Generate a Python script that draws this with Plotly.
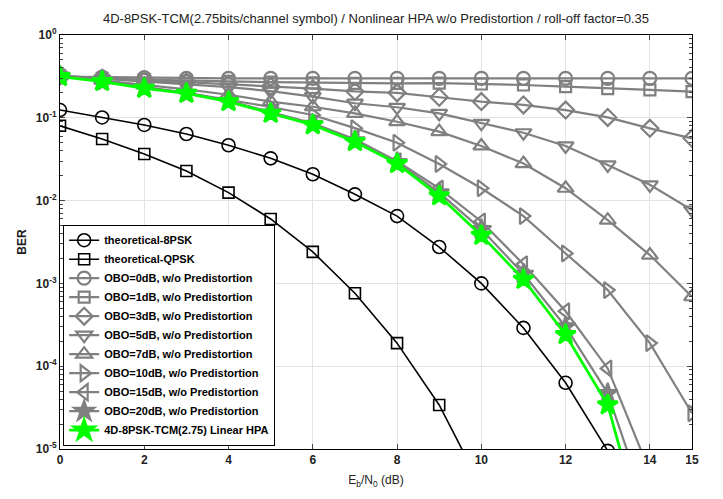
import plotly.graph_objects as go

# E_b/N_0 (dB)
ebn0 = list(range(16))

# theoretical curves
ber_8psk = [0.124, 0.101, 0.082, 0.0637, 0.0466, 0.0324, 0.0208, 0.0119,
            0.0065, 0.00275, 0.001, 2.9e-4, 6.3e-5, 9.5e-6]
ber_qpsk = [0.080, 0.0555, 0.0366, 0.0228, 0.0125, 0.0060, 0.0024, 7.6e-4,
            1.9e-4, 3.4e-5, 3.5e-6]

# nonlinear HPA w/o predistortion
obo_0 = [0.315, 0.31, 0.305, 0.30, 0.30, 0.30, 0.30, 0.30, 0.30, 0.30,
         0.30, 0.30, 0.30, 0.30, 0.30, 0.30]
obo_1 = [0.32, 0.30, 0.29, 0.28, 0.275, 0.27, 0.265, 0.26, 0.26, 0.262,
         0.256, 0.249, 0.238, 0.225, 0.217, 0.207]
obo_3 = [0.32, 0.30, 0.28, 0.27, 0.255, 0.24, 0.225, 0.208, 0.20, 0.177,
         0.157, 0.143, 0.124, 0.101, 0.0746, 0.0565]
obo_5 = [0.32, 0.295, 0.275, 0.255, 0.235, 0.21, 0.18, 0.15, 0.134, 0.113,
         0.0858, 0.066, 0.0457, 0.027, 0.0155, 0.0077]
obo_7 = [0.32, 0.285, 0.25, 0.22, 0.19, 0.157, 0.136, 0.113, 0.0897, 0.068,
         0.0457, 0.028, 0.0141, 0.0058, 0.0022, 6.9e-4]
obo_10 = [0.32, 0.275, 0.235, 0.20, 0.165, 0.135, 0.108, 0.075, 0.050,
          0.0277, 0.0141, 0.0065, 0.0023, 8.3e-4, 1.9e-4, 2.7e-5]
obo_15 = [0.32, 0.28, 0.235, 0.20, 0.16, 0.118, 0.086, 0.055, 0.030,
          0.0140, 0.0056, 0.0017, 4.6e-4, 9.4e-5, 5.3e-6]
obo_20 = [0.318, 0.278, 0.231, 0.199, 0.159, 0.115, 0.084, 0.053, 0.029,
          0.0125, 0.0045, 0.0013, 3.0e-4, 4.7e-5, 1.5e-6]

# 4D-8PSK-TCM(2.75), linear HPA
tcm_linear = [0.314, 0.274, 0.227, 0.197, 0.157, 0.113, 0.082, 0.0515, 0.028,
              0.0114, 0.0038, 0.00112, 2.4e-4, 3.4e-5, 5e-7]

y_ticks = [1e-5, 1e-4, 1e-3, 1e-2, 1e-1, 1]
y_ticktext = ["<b>10<sup>-5</sup></b>", "<b>10<sup>-4</sup></b>",
              "<b>10<sup>-3</sup></b>", "<b>10<sup>-2</sup></b>",
              "<b>10<sup>-1</sup></b>", "<b>10<sup>0</sup></b>"]
x_ticks = [0, 2, 4, 6, 8, 10, 12, 14, 15]

GRAY = "#808080"
FONT = "Arial, Liberation Sans, sans-serif"

fig = go.Figure()


def add_curve(y, name, symbol, color, width, size):
    fig.add_trace(go.Scatter(
        x=ebn0[:len(y)], y=y, name=name, mode="lines+markers",
        line=dict(color=color, width=width),
        marker=dict(symbol=symbol, size=size, color=color,
                    line=dict(color=color, width=width)),
    ))


add_curve(ber_8psk, "theoretical-8PSK", "circle-open", "black", 1.6, 13)
add_curve(ber_qpsk, "theoretical-QPSK", "square-open", "black", 1.6, 11)
add_curve(obo_0, "OBO=0dB, w/o Predistortion", "circle-open", GRAY, 2.2, 13)
add_curve(obo_1, "OBO=1dB, w/o Predistortion", "square-open", GRAY, 2.2, 11)
add_curve(obo_3, "OBO=3dB, w/o Predistortion", "diamond-open", GRAY, 2.2, 13)
add_curve(obo_5, "OBO=5dB, w/o Predistortion", "triangle-down-open", GRAY, 2.2, 14)
add_curve(obo_7, "OBO=7dB, w/o Predistortion", "triangle-up-open", GRAY, 2.2, 14)
add_curve(obo_10, "OBO=10dB, w/o Predistortion", "triangle-right-open", GRAY, 2.2, 14)
add_curve(obo_15, "OBO=15dB, w/o Predistortion", "triangle-left-open", GRAY, 2.2, 14)
add_curve(obo_20, "OBO=20dB, w/o Predistortion", "star", GRAY, 2.2, 15)
add_curve(tcm_linear, "4D-8PSK-TCM(2.75) Linear HPA", "star", "#00ff00", 2.8, 15)

fig.update_xaxes(
    range=[0, 15], tickvals=x_ticks, ticks="inside", ticklen=5,
    showgrid=True, gridcolor="#e3e3e3", gridwidth=1,
    showline=True, linecolor="black", linewidth=1, mirror="ticks",
    zeroline=False, automargin=False,
    tickfont=dict(family=FONT, size=12, color="#222", weight="bold"),
    title=dict(text="E<sub>b</sub>/N<sub>0</sub> (dB)", standoff=9,
               font=dict(family=FONT, size=12, color="#222")),
)
fig.update_yaxes(
    type="log", range=[-5, 0], tickvals=y_ticks, ticktext=y_ticktext,
    ticks="inside", ticklen=5, automargin=False,
    showgrid=True, gridcolor="#e3e3e3", gridwidth=1,
    showline=True, linecolor="black", linewidth=1, mirror="ticks",
    minor=dict(ticks="inside", ticklen=3, dtick="D1", showgrid=False),
    tickfont=dict(family=FONT, size=12, color="#222"),
    title=dict(text="<b>BER</b>", standoff=6,
               font=dict(family=FONT, size=12, color="#222")),
)

fig.update_layout(
    width=723, height=499,
    margin=dict(l=52, r=39, t=27, b=58),
    plot_bgcolor="white", paper_bgcolor="white",
    title=dict(
        text="4D-8PSK-TCM(2.75bits/channel symbol) / Nonlinear HPA w/o Predistortion / roll-off factor=0.35",
        x=0.5, xref="paper", xanchor="center", y=0.98, yanchor="middle",
        font=dict(family=FONT, size=13, color="#222")),
    legend=dict(
        x=0.005, y=0.008, xanchor="left", yanchor="bottom",
        bgcolor="white", bordercolor="black", borderwidth=1,
        font=dict(family=FONT, size=11, color="black", weight="bold"),
        tracegroupgap=0, itemwidth=30,
    ),
)

fig.write_html("out.html")
